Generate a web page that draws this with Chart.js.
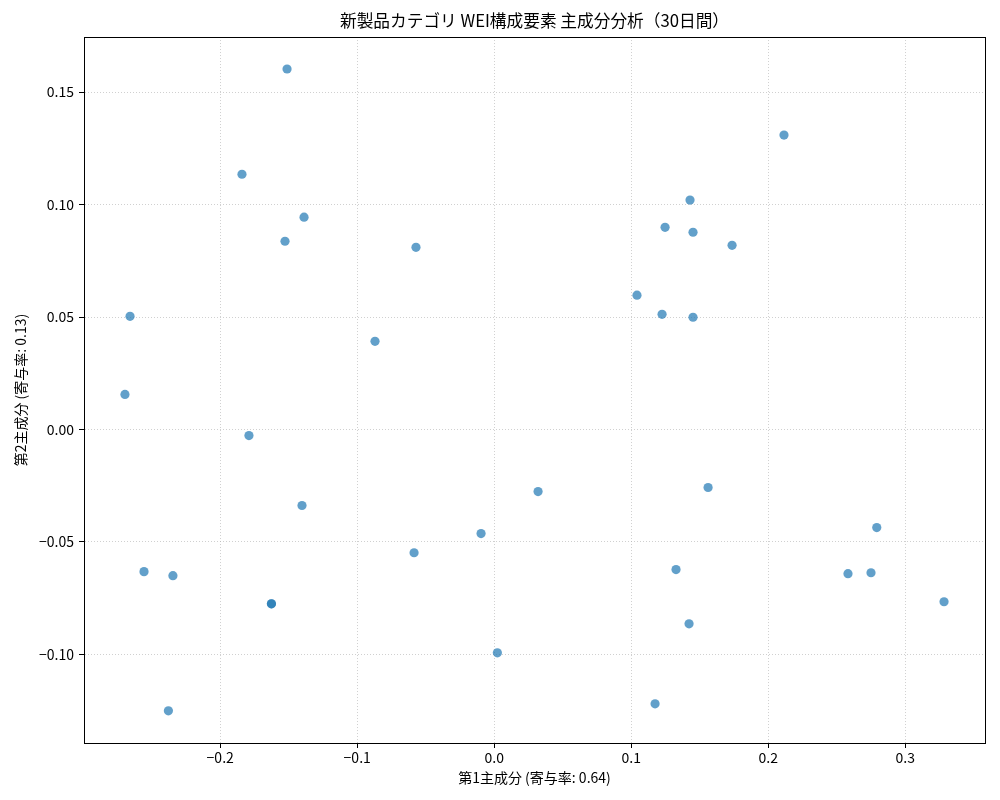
<!DOCTYPE html>
<html>
<head>
<meta charset="utf-8">
<script src="https://cdn.jsdelivr.net/npm/chart.js@4"></script>
<style>
  body { margin: 0; background: #fff; }
  canvas { display: block; }
</style>
</head>
<body>
<canvas id="chart-pca" width="1000" height="800"></canvas>
<script>
const titleText = '新製品カテゴリ WEI構成要素 主成分分析（30日間）'
const xLabel = '第1主成分 (寄与率: 0.64)'
const yLabel = '第2主成分 (寄与率: 0.13)'

// PC scores
const pc1 = [
  -0.1512, -0.1841, -0.1388, -0.1527, -0.0571, -0.2658, -0.0870, -0.2695, -0.1790,
  0.2115, 0.1429, 0.1247, 0.1451, 0.1736, 0.1042, 0.1225, 0.1451,
  -0.1403, -0.0096, -0.0585, -0.2556, -0.2345, -0.1626, -0.1626, 0.0023, -0.2378,
  0.0320, 0.1561, 0.2792, 0.1327, 0.2582, 0.2750, 0.3283, 0.1422, 0.1174
]
const pc2 = [
  0.1603, 0.1135, 0.0944, 0.0837, 0.0810, 0.0503, 0.0392, 0.0156, -0.0027,
  0.1309, 0.1020, 0.0899, 0.0877, 0.0819, 0.0597, 0.0512, 0.0499,
  -0.0338, -0.0463, -0.0548, -0.0632, -0.0650, -0.0775, -0.0775, -0.0993, -0.1251,
  -0.0276, -0.0258, -0.0436, -0.0623, -0.0641, -0.0637, -0.0766, -0.0864, -0.1220
]

const xTicks = [-0.2, -0.1, 0.0, 0.1, 0.2, 0.3]
const yTicks = [-0.10, -0.05, 0.00, 0.05, 0.10, 0.15]
const xRange = [-0.2994, 0.3582]
const yRange = [-0.1394, 0.1745]

const fontFamily = '"Noto Sans CJK JP", "Noto Sans", sans-serif'
const fmt = (digits) => (v) => (v < 0 ? '\u2212' : '') + Math.abs(v).toFixed(digits)

const frame = {
  id: 'frame',
  afterDraw: (chart) => {
    const { ctx, chartArea: a } = chart
    ctx.save()
    ctx.strokeStyle = '#000'
    ctx.lineWidth = 1
    ctx.strokeRect(Math.round(a.left) + 0.5, Math.round(a.top) + 0.5, Math.round(a.right - a.left), Math.round(a.bottom - a.top))
    ctx.restore()
  }
}

const gridStyle = {
  color: 'rgba(176, 176, 176, 0.75)',
  lineWidth: 0.8,
  drawTicks: true,
  tickLength: 5,
  tickColor: '#000',
  tickWidth: 1
}

new Chart(document.getElementById('chart-pca'), {
  type: 'scatter',
  data: {
    datasets: [
      {
        data: pc1.map((x, i) => ({ x, y: pc2[i] })),
        backgroundColor: 'rgba(31, 119, 180, 0.7)',
        borderWidth: 0,
        pointRadius: 4.6,
        pointHoverRadius: 4.6
      }
    ]
  },
  options: {
    responsive: false,
    animation: false,
    devicePixelRatio: 1,
    events: [],
    layout: { padding: { left: 0, right: 15, top: 0, bottom: 0 } },
    plugins: {
      legend: { display: false },
      tooltip: { enabled: false },
      title: {
        display: true,
        text: titleText,
        fullSize: false,
        color: '#000',
        font: { family: fontFamily, size: 16.7, weight: 'normal' },
        padding: { top: 11, bottom: 6 }
      }
    },
    scales: {
      x: {
        type: 'linear',
        min: xRange[0],
        max: xRange[1],
        afterBuildTicks: (scale) => { scale.ticks = xTicks.map((value) => ({ value })) },
        afterFit: (scale) => { scale.height = 57 },
        grid: gridStyle,
        border: { display: true, color: '#000', width: 1, dash: [1, 2] },
        ticks: { color: '#000', padding: 1, font: { family: fontFamily, size: 14 }, callback: fmt(1), maxRotation: 0 },
        title: { display: true, text: xLabel, color: '#000', font: { family: fontFamily, size: 14 }, padding: { top: 0, bottom: 14 } }
      },
      y: {
        type: 'linear',
        min: yRange[0],
        max: yRange[1],
        afterBuildTicks: (scale) => { scale.ticks = yTicks.map((value) => ({ value })) },
        afterFit: (scale) => { scale.width = 84 },
        grid: gridStyle,
        border: { display: true, color: '#000', width: 1, dash: [1, 2] },
        ticks: { color: '#000', padding: 5, font: { family: fontFamily, size: 14 }, callback: fmt(2) },
        title: { display: true, text: yLabel, color: '#000', font: { family: fontFamily, size: 14 }, padding: { top: 12, bottom: 0 } }
      }
    }
  },
  plugins: [frame]
})
</script>
</body>
</html>
